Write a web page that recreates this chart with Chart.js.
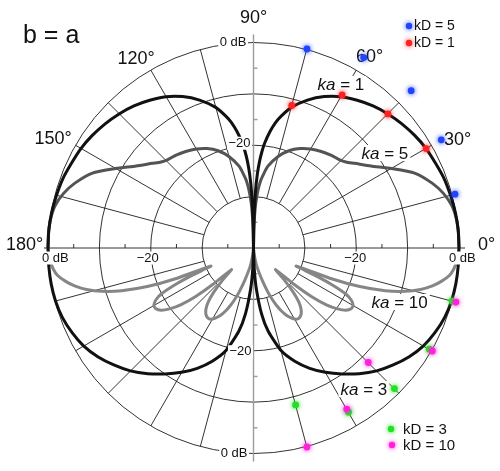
<!DOCTYPE html>
<html>
<head>
<meta charset="utf-8">
<script src="https://cdn.jsdelivr.net/npm/chart.js@4.4.1/dist/chart.umd.min.js"></script>
<style>
  html, body { margin: 0; padding: 0; background: #fff; }
  canvas { display: block; }
</style>
</head>
<body>
<canvas id="c" width="500" height="471"></canvas>
<script>
// Radial scale: centre of the plot is -40 dB, outer ring 0 dB
const DB_MIN = -40;
const ringLevels = [-30, -20, -10, 0];
const minorTicks = [-5, -15, -25, -35];

// ka = 1 (upper half): level in dB against angle from the 0° axis
const ka1Angles = [0, 5, 10, 15, 20, 25, 30, 35, 40, 45, 50, 55, 60, 65, 70, 75, 78, 80, 82, 84, 85, 86, 87, 88, 89, 90];
const ka1Db     = [0, 0, -0.1, -0.3, -0.5, -0.9, -1.2, -1.7, -2.3, -3.0, -3.8, -4.8, -5.9, -7.4, -9.3, -11.6, -13.6, -15.1, -17.1, -19.5, -21.1, -23, -25.5, -29, -35, -40];

// ka = 5 (upper half)
const ka5Angles = [0, 4, 8, 12, 16, 20, 25, 30, 35, 40, 43, 46, 50, 55, 60, 65, 70, 75, 80, 84, 87, 89, 90];
const ka5Db     = [0, 0, -0.1, -0.5, -1.5, -3.0, -5.4, -9.0, -12.1, -14.3, -15.4, -16.0, -16.4, -17.0, -17.7, -18.6, -19.8, -21.5, -23.8, -26.8, -31, -36, -40];

// ka = 3 (lower half)
const ka3Angles = [0, 5, 10, 15, 20, 25, 30, 35, 40, 45, 50, 55, 60, 65, 70, 75, 80, 83, 86, 88, 90];
const ka3Db     = [0, 0, 0, -0.1, -0.4, -1.0, -1.8, -3.0, -4.5, -6.1, -8.0, -10.0, -12.0, -14.1, -16.5, -19.3, -23.5, -27, -32, -36, -40];

// ka = 10 (lower half)
const ka10Angles = [0, 3, 6, 8, 10, 12, 14, 16, 18, 20, 21.5, 23, 24, 25, 26.5, 28, 30, 32, 34, 36,
                    38, 40, 42, 44.5, 46, 48, 50, 52, 54, 56, 58, 60, 62, 64, 66, 68, 70, 72, 75, 80, 85, 90];
const ka10Db     = [0, -0.2, -0.8, -1.5, -2.8, -4.4, -6.5, -9.3, -13, -18, -23.5, -31, -27, -23.5, -20, -18.5, -17.6, -17.6, -18.3, -19.8,
                    -22, -25.3, -29.5, -34, -31.5, -28.5, -26.3, -25, -24.2, -23.8, -23.7, -24, -24.6, -25.4, -26.5, -27.8, -29.3, -31, -33.5, -36.5, -39, -40];

// Discrete kD results (upper half: kD = 5, kD = 1; lower half: kD = 3, kD = 10)
const kd5Angles  = [15, 30, 45, 60, 75];
const kd5Db      = [0.6, 2.2, 3.4, 2.9, 0.2];
const kd1Angles  = [30, 45, 60, 75];
const kd1Db      = [-1.2, -3.0, -5.5, -11.2];
const kd3Angles  = [15, 30, 45, 60, 75];
const kd3Db      = [0, -0.5, -1.2, -3.0, -8.3];
const kd10Angles = [15, 30, 45, 60, 75];
const kd10Db     = [0.8, 0.2, -8.4, -3.7, 0.2];

const angleTickLabels = ['0°', '30°', '60°', '90°', '120°', '150°', '180°'];

function toXY(deg, db) {
  const r = Math.max(db - DB_MIN, 0);
  const a = deg * Math.PI / 180;
  return { x: r * Math.cos(a), y: r * Math.sin(a) };
}
// side = 1 for the upper half, -1 for the lower half; pattern is symmetric about 90°
function mirrored(angles, dbs, side) {
  const pts = angles.map((a, i) => toXY(side * a, dbs[i]));
  for (let i = angles.length - 1; i >= 0; i--) pts.push(toXY(side * (180 - angles[i]), dbs[i]));
  return pts;
}
function markers(angles, dbs, side) {
  return angles.map((a, i) => toXY(side * a, dbs[i]));
}

const dotColors = { kd10: '#ff22dd', kd3: '#22e022', kd1: '#ff2222', kd5: '#2244ff' };

function dotSet(label, data, color) {
  return { label, data, showLine: false, pointRadius: 3.4, pointBorderWidth: 0,
           pointBackgroundColor: color, backgroundColor: color, borderColor: color, clip: false };
}
function curveSet(label, data, color) {
  return { label, data, showLine: true, pointRadius: 0, borderWidth: 3, borderColor: color,
           backgroundColor: color, tension: 0.2, fill: false, clip: false };
}

const NUM_DOT_SETS = 4;
const datasets = [
  dotSet('kD = 10', markers(kd10Angles, kd10Db, -1), dotColors.kd10),
  dotSet('kD = 3',  markers(kd3Angles,  kd3Db,  -1), dotColors.kd3),
  dotSet('kD = 1',  markers(kd1Angles,  kd1Db,   1), dotColors.kd1),
  dotSet('kD = 5',  markers(kd5Angles,  kd5Db,   1), dotColors.kd5),
  curveSet('ka = 1',  mirrored(ka1Angles,  ka1Db,   1), '#111111'),
  curveSet('ka = 3',  mirrored(ka3Angles,  ka3Db,  -1), '#111111'),
  curveSet('ka = 5',  mirrored(ka5Angles,  ka5Db,   1), '#545454'),
  curveSet('ka = 10', mirrored(ka10Angles, ka10Db, -1), '#868686'),
];

function geom(chart) {
  const { x, y } = chart.scales;
  const cx = x.getPixelForValue(0), cy = y.getPixelForValue(0);
  const R = db => x.getPixelForValue(db - DB_MIN) - cx;
  return { cx, cy, R };
}

const polarGrid = {
  id: 'polarGrid',
  beforeDatasetsDraw(chart) {
    const { ctx } = chart;
    const { cx, cy, R } = geom(chart);
    ctx.save();
    ctx.strokeStyle = '#1c1c1c';
    ctx.lineWidth = 0.9;
    ringLevels.forEach(l => { ctx.beginPath(); ctx.arc(cx, cy, R(l), 0, 2 * Math.PI); ctx.stroke(); });
    const r0 = R(ringLevels[0]), r1 = R(0);
    for (let a = 15; a < 360; a += 15) {
      if (a % 90 === 0) continue;
      const t = a * Math.PI / 180;
      ctx.beginPath();
      ctx.moveTo(cx + r0 * Math.cos(t), cy - r0 * Math.sin(t));
      ctx.lineTo(cx + r1 * Math.cos(t), cy - r1 * Math.sin(t));
      ctx.stroke();
    }
    // 0°–180° axis with small ticks
    ctx.beginPath(); ctx.moveTo(cx - r1 - 4, cy); ctx.lineTo(cx + r1 + 6, cy); ctx.stroke();
    minorTicks.forEach(t => [-1, 1].forEach(s => {
      const px = cx + s * R(t);
      ctx.beginPath(); ctx.moveTo(px, cy); ctx.lineTo(px, cy - 4); ctx.stroke();
    }));
    // 90°–270° axis, grey
    ctx.strokeStyle = '#9c9c9c';
    ctx.lineWidth = 1.4;
    ctx.beginPath(); ctx.moveTo(cx, cy - r1 - 8); ctx.lineTo(cx, cy + r1 + 8); ctx.stroke();
    minorTicks.forEach(t => [-1, 1].forEach(s => {
      const py = cy + s * R(t);
      ctx.beginPath(); ctx.moveTo(cx, py); ctx.lineTo(cx + 4, py); ctx.stroke();
    }));
    ctx.restore();
  }
};

function boxedText(ctx, text, x, y, align, font) {
  ctx.font = font;
  const w = ctx.measureText(text).width;
  const left = align === 'right' ? x - w : align === 'center' ? x - w / 2 : x;
  ctx.fillStyle = '#fff';
  ctx.fillRect(left - 1.5, y - 6.5, w + 3, 13);
  ctx.fillStyle = '#111';
  ctx.textAlign = 'left';
  ctx.textBaseline = 'middle';
  ctx.fillText(text, left, y);
}

function kaLabel(ctx, value, x, baseline) {
  const fi = 'italic 17px "Liberation Sans", Arial, sans-serif';
  const fr = '17px "Liberation Sans", Arial, sans-serif';
  ctx.font = fi; const w1 = ctx.measureText('ka').width;
  const rest = ' = ' + value;
  ctx.font = fr; const w2 = ctx.measureText(rest).width;
  ctx.fillStyle = '#fff';
  ctx.fillRect(x - 2, baseline - 14, w1 + w2 + 4, 16);
  ctx.fillStyle = '#111';
  ctx.textAlign = 'left';
  ctx.textBaseline = 'alphabetic';
  ctx.font = fi; ctx.fillText('ka', x, baseline);
  ctx.font = fr; ctx.fillText(rest, x + w1, baseline);
}

function glowDot(ctx, x, y, color) {
  ctx.save();
  ctx.shadowColor = color; ctx.shadowBlur = 5;
  ctx.fillStyle = color;
  ctx.beginPath(); ctx.arc(x, y, 3.2, 0, 2 * Math.PI); ctx.fill();
  ctx.restore();
}

const annotations = {
  id: 'annotations',
  beforeDatasetDraw(chart, args) {
    if (args.index < NUM_DOT_SETS) {
      const c = chart.data.datasets[args.index].pointBackgroundColor;
      chart.ctx.save();
      chart.ctx.shadowColor = c;
      chart.ctx.shadowBlur = 5;
    }
  },
  afterDatasetDraw(chart, args) {
    const ctx = chart.ctx;
    if (args.index < NUM_DOT_SETS) { ctx.restore(); return; }
    if (args.index !== NUM_DOT_SETS) return;
    // all curves are drawn; add the texts before the kD markers
    const { cx, cy, R } = geom(chart);
    const num = '13px "Liberation Sans", Arial, sans-serif';
    const r0 = R(0), r20 = R(-20);
    const ly = cy + 10;
    boxedText(ctx, '0 dB', cx - r0 - 6, ly, 'left', num);
    boxedText(ctx, '\u221220', cx - r20 - 3, ly, 'center', num);
    boxedText(ctx, '\u221220', cx + r20 - 1, ly, 'center', num);
    boxedText(ctx, '0 dB', cx + r0 - 10, ly, 'left', num);
    boxedText(ctx, '0 dB', cx - 7, cy - r0, 'right', num);
    boxedText(ctx, '\u221220', cx - 3, cy - r20 - 2, 'right', num);
    boxedText(ctx, '\u221220', cx - 2, cy + r20 + 1, 'right', num);
    boxedText(ctx, '0 dB', cx - 6, cy + r0, 'right', num);

    kaLabel(ctx, '1', cx + 64, cy - 158);
    kaLabel(ctx, '5', cx + 108, cy - 89);
    kaLabel(ctx, '10', cx + 118, cy + 60);
    kaLabel(ctx, '3', cx + 87, cy + 147);

    // angle labels
    const offs = [[233, -3], [204, -108], [116, -191], [0, -230], [-117.5, -189], [-200.5, -108.5], [-229, -3]];
    ctx.font = '18px "Liberation Sans", Arial, sans-serif';
    ctx.fillStyle = '#111';
    ctx.textAlign = 'center';
    ctx.textBaseline = 'middle';
    angleTickLabels.forEach((t, i) => ctx.fillText(t, cx + offs[i][0], cy + offs[i][1]));

    // title
    ctx.font = '25px "Liberation Sans", Arial, sans-serif';
    ctx.textAlign = 'left';
    ctx.textBaseline = 'alphabetic';
    ctx.fillText('b = a', 23, 43);

    // legends
    const leg = [
      ['kD = 5', dotColors.kd5, 409, 26, 414, '14px'],
      ['kD = 1', dotColors.kd1, 409, 43, 414, '14px'],
      ['kD = 3', dotColors.kd3, 391, 429, 403, '15px'],
      ['kD = 10', dotColors.kd10, 392, 445, 403, '15px'],
    ];
    leg.forEach(([t, c, dx, dy, tx, fs]) => {
      glowDot(ctx, dx, dy, c);
      ctx.font = fs + ' "Liberation Sans", Arial, sans-serif';
      ctx.fillStyle = '#111';
      ctx.textBaseline = 'middle';
      ctx.textAlign = 'left';
      ctx.fillText(t, tx, dy + 0.5);
    });
  }
};

new Chart(document.getElementById('c'), {
  type: 'scatter',
  data: { datasets },
  options: {
    responsive: false,
    animation: false,
    events: [],
    layout: { padding: { left: 48, right: 41, top: 43, bottom: 18 } },
    scales: {
      x: { type: 'linear', min: -40, max: 40, display: false },
      y: { type: 'linear', min: -40, max: 40, display: false }
    },
    plugins: { legend: { display: false }, tooltip: { enabled: false } }
  },
  plugins: [polarGrid, annotations]
});
</script>
</body>
</html>
